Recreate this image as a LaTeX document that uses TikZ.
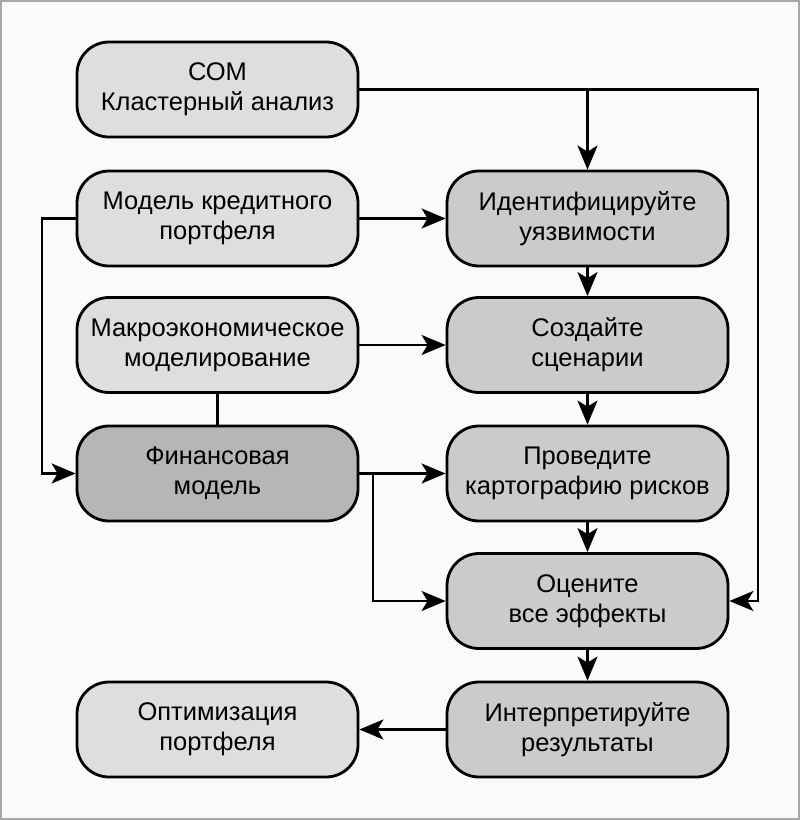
\documentclass[tikz,border=0pt]{standalone}
\usepackage{fontspec}
\setmainfont{Liberation Sans}
\usetikzlibrary{arrows.meta,calc}
\definecolor{bgc}{HTML}{FAFAFA}
\definecolor{lightbox}{HTML}{DEDEDE}
\definecolor{midbox}{HTML}{CBCBCB}
\definecolor{darkbox}{HTML}{B6B6B6}
\definecolor{framec}{HTML}{A8A8A8}
\tikzset{
  box/.style={draw=black, line width=2.8pt, rounded corners=32pt,
    minimum width=281pt, minimum height=95pt, align=center,
    font=\fontsize{25.5}{30}\selectfont, inner sep=0pt},
  lbox/.style={box, fill=lightbox},
  mbox/.style={box, fill=midbox},
  dbox/.style={box, fill=darkbox},
  conn/.style={line width=2.5pt, draw=black},
  arr/.style={conn, -{Stealth[length=24pt,width=20pt,inset=6pt]}}
}
\begin{document}
\begin{tikzpicture}[x=1pt,y=-1pt]
\fill[bgc] (0,0) rectangle (800,820);
\useasboundingbox (0,0) rectangle (800,820);
\draw[framec, line width=1.5pt] (1,1) rectangle (799,819);

\node[lbox] (com) at (217.5,89.5) {СОМ\\Кластерный анализ};
\node[lbox] (credit) at (217.5,218.5) {Модель кредитного\\портфеля};
\node[lbox] (macro) at (217.5,345) {Макроэкономическое\\моделирование};
\node[dbox] (fin) at (217.5,473.5) {Финансовая\\модель};
\node[lbox] (opt) at (217.5,729.5) {Оптимизация\\портфеля};

\node[mbox] (ident) at (587.5,218.5) {Идентифицируйте\\уязвимости};
\node[mbox] (scen) at (587.5,345) {Создайте\\сценарии};
\node[mbox] (map) at (587.5,473.5) {Проведите\\картографию рисков};
\node[mbox] (eval) at (587.5,601) {Оцените\\все эффекты};
\node[mbox] (interp) at (587.5,729.5) {Интерпретируйте\\результаты};

\coordinate (jtop) at (587.5,89.5);
\coordinate (rtop) at (758,89.5);
\coordinate (rbot) at (758,601);
\coordinate (lleft) at (42,218.5);
\coordinate (fjoin) at (373,473.5);
\coordinate (fbot) at (373,601);

\draw[arr] (com.east) -- (rtop) -- (rbot) -- (eval.east);
\draw[arr] (jtop) -- (ident.north);
\draw[arr] (credit.east) -- (ident.west);
\draw[arr] (credit.west) -- (lleft) |- (fin.west);
\draw[arr] (macro.east) -- (scen.west);
\draw[conn] (macro.south) -- (fin.north);
\draw[arr] (fin.east) -- (map.west);
\draw[arr] (fjoin) -- (fbot) -- (eval.west);
\draw[arr] (ident.south) -- (scen.north);
\draw[arr] (scen.south) -- (map.north);
\draw[arr] (map.south) -- (eval.north);
\draw[arr] (eval.south) -- (interp.north);
\draw[arr] (interp.west) -- (opt.east);
\end{tikzpicture}
\end{document}
